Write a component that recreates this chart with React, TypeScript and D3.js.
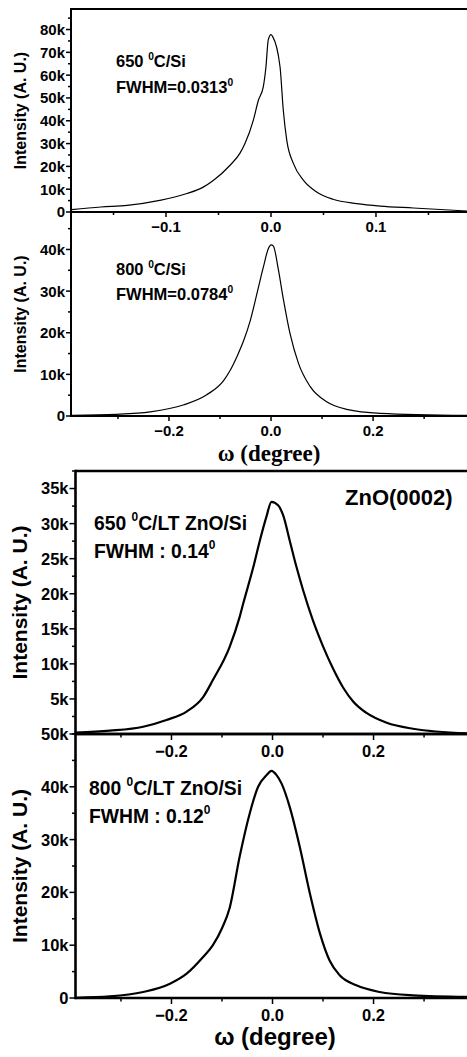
import * as d3 from "d3";

// ---- data (omega in degrees, intensity in counts) ----
const omega650Si = [-0.19, -0.162, -0.137, -0.106, -0.08, -0.065, -0.055, -0.039, -0.0295, -0.0248, -0.0168, -0.012, -0.0073, -0.0048, -0.0026, 0.0, 0.0015, 0.0086, 0.0117, 0.015, 0.0213, 0.031, 0.0435, 0.059, 0.0816, 0.104, 0.1356, 0.187];
const intensity650Si = [1050, 2200, 2900, 5100, 8100, 10800, 13800, 20500, 25800, 30000, 40300, 49000, 55000, 63700, 75500, 77800, 77000, 63700, 44700, 31500, 21300, 13900, 8800, 5600, 3700, 2600, 1760, 440];

const omega800Si = [-0.39, -0.303, -0.237, -0.172, -0.126, -0.093, -0.08, -0.066, -0.054, -0.041, -0.028, -0.015, -0.005, 0.0, 0.0046, 0.0143, 0.0242, 0.037, 0.0536, 0.0765, 0.109, 0.148, 0.214, 0.384];
const intensity800Si = [150, 400, 1000, 2650, 5100, 8500, 11000, 14500, 18000, 22800, 29200, 35800, 40300, 41100, 40800, 35200, 28000, 19900, 12700, 7100, 3400, 1600, 650, 150];

const omega650LT = [-0.39, -0.322, -0.256, -0.21, -0.17, -0.137, -0.118, -0.085, -0.065, -0.058, -0.038, -0.025, -0.012, -0.002, 0.011, 0.021, 0.034, 0.0475, 0.0606, 0.08, 0.1, 0.12, 0.14, 0.16, 0.186, 0.226, 0.278, 0.385];
const intensity650LT = [190, 470, 1040, 2000, 3200, 5300, 7700, 12400, 16700, 18600, 23800, 27600, 31000, 33100, 32600, 31200, 27600, 23800, 20500, 16200, 12500, 9300, 6600, 4600, 3000, 1600, 750, 100];

const omega800LT = [-0.39, -0.322, -0.256, -0.203, -0.17, -0.137, -0.118, -0.1, -0.085, -0.065, -0.045, -0.0285, -0.012, -0.002, 0.008, 0.018, 0.034, 0.054, 0.074, 0.094, 0.113, 0.133, 0.166, 0.212, 0.278, 0.385];
const intensity800LT = [50, 300, 1140, 2700, 4600, 7800, 10000, 13200, 17000, 26800, 35000, 40000, 42200, 43000, 42200, 40600, 36200, 28600, 19800, 12200, 7100, 4300, 2400, 1140, 500, 200];

// ---- ticks ----
const xTicksNarrow = [-0.1, 0, 0.1];
const xMinorNarrow = [-0.15, -0.05, 0.05, 0.15];
const xTicksWide = [-0.2, 0, 0.2];
const xMinorWide = [-0.3, -0.1, 0.1, 0.3];
const yTicks650Si = [0, 10000, 20000, 30000, 40000, 50000, 60000, 70000, 80000];
const yTicks800Si = [0, 10000, 20000, 30000, 40000];
const yTicks650LT = [5000, 10000, 15000, 20000, 25000, 30000, 35000];
const yTicks800LT = [0, 10000, 20000, 30000, 40000, 50000];
const yTickLabels800LT = ["0", "10k", "20k", "30k", "40k", "50k"];

const SANS = "'Liberation Sans', Arial, sans-serif";
const SERIF = "'Liberation Serif', 'Times New Roman', serif";

type Panel = {
  key: string;
  omega: number[];
  intensity: number[];
  left: number;
  top: number;
  bottom: number;
  xDomain: [number, number];
  yDomain: [number, number];
  xTicks: number[];
  xMinor: number[];
  yTicks: number[];
  yLabels?: string[];
  yMinorStep: number;
  label1: [string, string];
  label2: [string];
  labelX: number;
  labelY: [number, number];
  labelSize: number;
  tickSize: number;
  axisWidth: number;
  lineWidth: number;
  titleSize: number;
  titleX: number;
};

const W = 467;

const panels: Panel[] = [
  {
    key: "p1", omega: omega650Si, intensity: intensity650Si,
    left: 71, top: 9, bottom: 212, xDomain: [-0.1905, 0.1867], yDomain: [0, 89000],
    xTicks: xTicksNarrow, xMinor: xMinorNarrow, yTicks: yTicks650Si, yMinorStep: 5000,
    label1: ["650 ", "C/Si"], label2: ["FWHM=0.0313"], labelX: 116, labelY: [67, 93],
    labelSize: 16.5, tickSize: 15, axisWidth: 2, lineWidth: 1.2, titleSize: 16, titleX: 26,
  },
  {
    key: "p2", omega: omega800Si, intensity: intensity800Si,
    left: 71, top: 212, bottom: 416, xDomain: [-0.392, 0.384], yDomain: [0, 49000],
    xTicks: xTicksWide, xMinor: xMinorWide, yTicks: yTicks800Si, yMinorStep: 5000,
    label1: ["800 ", "C/Si"], label2: ["FWHM=0.0784"], labelX: 116, labelY: [275, 300],
    labelSize: 16.5, tickSize: 15, axisWidth: 2, lineWidth: 1.2, titleSize: 16, titleX: 26,
  },
  {
    key: "p3", omega: omega650LT, intensity: intensity650LT,
    left: 75.5, top: 471, bottom: 734, xDomain: [-0.39, 0.385], yDomain: [0, 37500],
    xTicks: xTicksWide, xMinor: xMinorWide, yTicks: yTicks650LT, yMinorStep: 2500,
    label1: ["650 ", "C/LT ZnO/Si"], label2: ["FWHM : 0.14"], labelX: 94, labelY: [530, 558],
    labelSize: 19.3, tickSize: 16.5, axisWidth: 2.6, lineWidth: 2.2, titleSize: 21, titleX: 27,
  },
  {
    key: "p4", omega: omega800LT, intensity: intensity800LT,
    left: 75.5, top: 734, bottom: 998, xDomain: [-0.39, 0.385], yDomain: [0, 50000],
    xTicks: xTicksWide, xMinor: xMinorWide, yTicks: yTicks800LT, yLabels: yTickLabels800LT, yMinorStep: 5000,
    label1: ["800 ", "C/LT ZnO/Si"], label2: ["FWHM : 0.12"], labelX: 89, labelY: [795, 823],
    labelSize: 19.3, tickSize: 16.5, axisWidth: 2.6, lineWidth: 2.2, titleSize: 21, titleX: 27,
  },
];

const kFormat = (v: number) => (v === 0 ? "0" : `${v / 1000}k`);

function PanelView({ p }: { p: Panel }) {
  const x = d3.scaleLinear().domain(p.xDomain).range([p.left, W]);
  const y = d3.scaleLinear().domain(p.yDomain).range([p.bottom, p.top]);
  const line = d3
    .line<number>()
    .x((_, i) => x(p.omega[i]))
    .y((d) => y(d))
    .curve(d3.curveMonotoneX);
  const yMinor = d3.range(p.yDomain[0], p.yDomain[1] + 1, p.yMinorStep).filter((v) => !p.yTicks.includes(v));
  const major = p.axisWidth > 2.2 ? 6 : 5;
  const minor = p.axisWidth > 2.2 ? 3.5 : 3;
  const sup = p.labelSize * 0.62;
  const titleCenter = (p.top + p.bottom) / 2;
  return (
    <g>
      <clipPath id={`clip-${p.key}`}>
        <rect x={p.left} y={p.top} width={W - p.left} height={p.bottom - p.top} />
      </clipPath>
      <path
        d={line(p.intensity) ?? ""}
        fill="none"
        stroke="#000"
        strokeWidth={p.lineWidth}
        strokeLinejoin="round"
        clipPath={`url(#clip-${p.key})`}
      />
      {/* frame */}
      <line x1={p.left} x2={W} y1={p.top} y2={p.top} stroke="#000" strokeWidth={p.axisWidth} />
      <line x1={p.left} x2={W} y1={p.bottom} y2={p.bottom} stroke="#000" strokeWidth={p.axisWidth} />
      <line x1={p.left} x2={p.left} y1={p.top - p.axisWidth / 2} y2={p.bottom + p.axisWidth / 2} stroke="#000" strokeWidth={p.axisWidth} />
      {/* x ticks */}
      {p.xTicks.map((t) => (
        <g key={`xt${t}`}>
          <line x1={x(t)} x2={x(t)} y1={p.bottom} y2={p.bottom + major} stroke="#000" strokeWidth={1.5} />
          <text
            x={x(t)}
            y={p.bottom + major + p.tickSize * 1.0}
            textAnchor="middle"
            fontFamily={SANS}
            fontWeight="bold"
            fontSize={p.tickSize}
          >
            {d3.format(".1f")(t)}
          </text>
        </g>
      ))}
      {p.xMinor.map((t) => (
        <line key={`xm${t}`} x1={x(t)} x2={x(t)} y1={p.bottom} y2={p.bottom + minor} stroke="#000" strokeWidth={1.5} />
      ))}
      {/* y ticks */}
      {p.yTicks.map((t, i) => (
        <g key={`yt${t}`}>
          <line x1={p.left - major} x2={p.left} y1={y(t)} y2={y(t)} stroke="#000" strokeWidth={1.5} />
          <text
            x={p.left - major - 1}
            y={y(t)}
            dy="0.36em"
            textAnchor="end"
            fontFamily={SANS}
            fontWeight="bold"
            fontSize={p.tickSize}
          >
            {p.yLabels ? p.yLabels[i] : kFormat(t)}
          </text>
        </g>
      ))}
      {yMinor.map((t) => (
        <line key={`ym${t}`} x1={p.left - minor} x2={p.left} y1={y(t)} y2={y(t)} stroke="#000" strokeWidth={1.5} />
      ))}
      {/* y title */}
      <text
        transform={`translate(${p.titleX},${titleCenter}) rotate(-90)`}
        textAnchor="middle"
        fontFamily={SANS}
        fontWeight="bold"
        fontSize={p.titleSize}
      >
        Intensity (A. U.)
      </text>
      {/* annotations */}
      <text x={p.labelX} y={p.labelY[0]} fontFamily={SANS} fontWeight="bold" fontSize={p.labelSize}>
        {p.label1[0]}
        <tspan fontSize={sup} dy={-p.labelSize * 0.45}>0</tspan>
        <tspan dy={p.labelSize * 0.45}>{p.label1[1]}</tspan>
      </text>
      <text x={p.labelX} y={p.labelY[1]} fontFamily={SANS} fontWeight="bold" fontSize={p.labelSize}>
        {p.label2[0]}
        <tspan fontSize={sup} dy={-p.labelSize * 0.45}>0</tspan>
      </text>
    </g>
  );
}

export default function App() {
  return (
    <svg width={W} height={1057} style={{ position: "absolute", left: 0, top: 0 }}>
      <rect width={W} height={1057} fill="#fff" />
      {panels.map((p) => (
        <PanelView key={p.key} p={p} />
      ))}
      <text x={345} y={505} fontFamily={SANS} fontWeight="bold" fontSize={22}>
        ZnO(0002)
      </text>
      <text x={269} y={461} textAnchor="middle" fontFamily={SERIF} fontWeight="bold" fontSize={23}>
        ω (degree)
      </text>
      <text x={275} y={1045} textAnchor="middle" fontFamily={SANS} fontWeight="bold" fontSize={24}>
        ω (degree)
      </text>
    </svg>
  );
}
